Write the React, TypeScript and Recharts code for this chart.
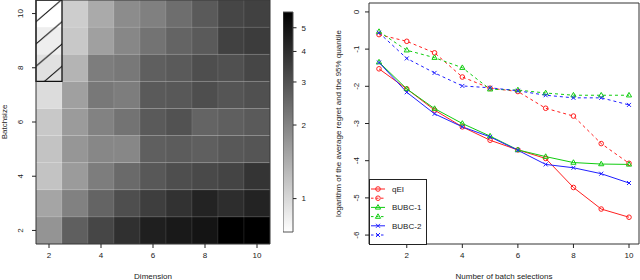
import {
  ComposedChart,
  Line,
  XAxis,
  YAxis,
  ReferenceArea,
  Legend,
  Label,
} from "recharts";

// heatmap: dimension (x) vs batch size (y)
const dims = [2, 3, 4, 5, 6, 7, 8, 9, 10];
const batchSizes = [2, 3, 4, 5, 6, 7, 8, 9, 10];
// one row per batch size, one value per dimension
const heatValues = [
  [1.74, 2.68, 3.28, 3.93, 4.49, 4.74, 4.93, 5.8, 5.8], // batch 2
  [1.52, 2.04, 2.57, 3.08, 3.5, 3.86, 4.37, 4.03, 4.37], // batch 3
  [1.19, 1.65, 2.1, 2.46, 2.84, 3.08, 3.21, 3.33, 3.8], // batch 4
  [1.19, 1.71, 1.94, 1.94, 2.68, 2.75, 2.68, 2.84, 2.91], // batch 5
  [1.14, 1.65, 2.02, 2.28, 2.79, 2.98, 2.57, 2.68, 2.79], // batch 6
  [0.97, 1.58, 2.19, 2.1, 2.79, 2.84, 3.08, 2.91, 3.03], // batch 7
  [0.93, 1.34, 2.1, 2.19, 2.68, 2.79, 3.08, 3.03, 3.28], // batch 8
  [0.84, 1.14, 1.58, 1.94, 2.28, 2.57, 2.79, 3.42, 3.56], // batch 9
  [0.73, 1.1, 1.46, 1.86, 2.05, 2.37, 2.79, 3.28, 3.42], // batch 10
];
const gridTicks = [2, 4, 6, 8, 10];
const colorTicks = [1, 2, 3, 4, 5];
const colorMin = 0.73;
const colorMax = 5.8;

// regret curves
const rounds = [1, 2, 3, 4, 5, 6, 7, 8, 9, 10];
const qeiMean = [-1.53, -2.07, -2.64, -3.09, -3.45, -3.71, -3.94, -4.72, -5.3, -5.52];
const qeiQuant = [-0.61, -0.79, -1.1, -1.75, -2.05, -2.14, -2.59, -2.8, -3.54, -4.07];
const bubc1Mean = [-1.35, -2.07, -2.6, -3.0, -3.34, -3.71, -3.89, -4.05, -4.09, -4.1];
const bubc1Quant = [-0.53, -1.03, -1.23, -1.5, -2.08, -2.1, -2.18, -2.24, -2.24, -2.24];
const bubc2Mean = [-1.36, -2.16, -2.74, -3.09, -3.36, -3.72, -4.1, -4.19, -4.35, -4.6];
const bubc2Quant = [-0.56, -1.25, -1.64, -1.99, -2.04, -2.12, -2.24, -2.31, -2.31, -2.5];
const regretTicks = [0, -1, -2, -3, -4, -5, -6];
const roundTicks = [2, 4, 6, 8, 10];

const FONT = "'Liberation Sans', Arial, sans-serif";
const RED = "#ff2020";
const GREEN = "#10cc10";
const BLUE = "#2020ff";

const series = [
  { key: "qeiMean", name: "qEI", color: RED, dashed: false, mark: "circle" },
  { key: "qeiQuant", name: "", color: RED, dashed: true, mark: "circle" },
  { key: "bubc1Mean", name: "BUBC-1", color: GREEN, dashed: false, mark: "triangle" },
  { key: "bubc1Quant", name: "", color: GREEN, dashed: true, mark: "triangle" },
  { key: "bubc2Mean", name: "BUBC-2", color: BLUE, dashed: false, mark: "cross" },
  { key: "bubc2Quant", name: "", color: BLUE, dashed: true, mark: "cross" },
];

const table = rounds.map((r, i) => ({
  r,
  qeiMean: qeiMean[i],
  qeiQuant: qeiQuant[i],
  bubc1Mean: bubc1Mean[i],
  bubc1Quant: bubc1Quant[i],
  bubc2Mean: bubc2Mean[i],
  bubc2Quant: bubc2Quant[i],
}));

function grayOf(v: number): string {
  const t = (Math.log(v) - Math.log(colorMin)) / (Math.log(colorMax) - Math.log(colorMin));
  const g = Math.round(255 * (1 - Math.min(1, Math.max(0, t))));
  return `rgb(${g},${g},${g})`;
}

function Marker({ cx, cy, color, mark }: { cx: number; cy: number; color: string; mark: string }) {
  if (cx == null || cy == null) return null;
  if (mark === "circle")
    return <circle cx={cx} cy={cy} r={2.3} fill="none" stroke={color} strokeWidth={1} />;
  if (mark === "triangle")
    return (
      <polygon
        points={`${cx},${cy - 2.8} ${cx - 2.6},${cy + 1.7} ${cx + 2.6},${cy + 1.7}`}
        fill="none"
        stroke={color}
        strokeWidth={1}
      />
    );
  return (
    <path
      d={`M${cx - 2},${cy - 2}L${cx + 2},${cy + 2}M${cx - 2},${cy + 2}L${cx + 2},${cy - 2}`}
      stroke={color}
      strokeWidth={1}
    />
  );
}

// y tick labels drawn parallel to the axis, like R does
function RotatedTick(props: any) {
  const { x, y, payload } = props;
  return (
    <text
      x={x}
      y={y}
      dy="0.35em"
      transform={`rotate(-90 ${x} ${y})`}
      textAnchor="middle"
      fontSize={8}
      fontFamily={FONT}
      fill="#222"
    >
      {payload.value}
    </text>
  );
}

function SideTitle({ viewBox, text, dx }: any) {
  const x = viewBox.x + dx;
  const y = viewBox.y + viewBox.height / 2;
  return (
    <text
      x={x}
      y={y}
      dy="0.35em"
      transform={`rotate(-90 ${x} ${y})`}
      textAnchor="middle"
      fontSize={8}
      fontFamily={FONT}
      fill="#222"
    >
      {text}
    </text>
  );
}

function BottomTitle({ viewBox, text }: any) {
  return (
    <text
      x={viewBox.x + viewBox.width / 2}
      y={278.5}
      textAnchor="middle"
      fontSize={8}
      fontFamily={FONT}
      fill="#222"
    >
      {text}
    </text>
  );
}

function LegendBox() {
  return (
    <svg width={58} height={66} style={{ display: "block" }}>
      <rect x={0.5} y={0.5} width={57} height={65} fill="#fff" stroke="#222" strokeWidth={1} />
      {series.map((s, i) => {
        const y = 10 + i * 9.2;
        return (
          <g key={s.key}>
            <line
              x1={2}
              x2={16}
              y1={y}
              y2={y}
              stroke={s.color}
              strokeWidth={1}
              strokeDasharray={s.dashed ? "2.5 2.5" : undefined}
            />
            <Marker cx={9} cy={y} color={s.color} mark={s.mark} />
            {s.name && (
              <text x={23} y={y} dy="0.35em" fontSize={8} fontFamily={FONT} fill="#222">
                {s.name}
              </text>
            )}
          </g>
        );
      })}
    </svg>
  );
}

function Heatmap() {
  return (
    <ComposedChart width={280} height={280} margin={{ top: 0, right: 10, bottom: 0, left: 0 }}>
      <defs>
        <pattern id="hatch" patternUnits="userSpaceOnUse" x={36} y={-0.6} width={26} height={22.3}>
          <line x1={0} y1={22.3} x2={26} y2={0} stroke="#111" strokeWidth={1} />
          <line x1={-2} y1={1.7} x2={2} y2={-1.7} stroke="#111" strokeWidth={1} />
          <line x1={24} y1={24} x2={28} y2={20.6} stroke="#111" strokeWidth={1} />
        </pattern>
      </defs>
      <XAxis
        type="number"
        dataKey="d"
        domain={[1.5, 10.5]}
        allowDataOverflow
        ticks={gridTicks}
        height={36}
        tickSize={4}
        tickMargin={4}
        axisLine={false}
        tickLine={{ stroke: "#222" }}
        tick={{ fontSize: 8, fontFamily: FONT, fill: "#222" }}
      >
        <Label content={(p: any) => <BottomTitle {...p} text="Dimension" />} />
      </XAxis>
      <YAxis
        type="number"
        dataKey="b"
        domain={[1.5, 10.5]}
        allowDataOverflow
        ticks={gridTicks}
        width={36}
        tickSize={4}
        tickMargin={12}
        axisLine={false}
        tickLine={{ stroke: "#222" }}
        tick={<RotatedTick />}
      >
        <Label content={(p: any) => <SideTitle {...p} text="Batchsize" dx={4} />} />
      </YAxis>
      {batchSizes.map((b, i) =>
        dims.map((d, j) => (
          <ReferenceArea
            key={`c-${b}-${d}`}
            x1={d - 0.5}
            x2={d + 0.5}
            y1={b - 0.5}
            y2={b + 0.5}
            ifOverflow="visible"
            fill={grayOf(heatValues[i][j])}
            fillOpacity={1}
            stroke="#fff"
            strokeOpacity={0.08}
          />
        ))
      )}
      <ReferenceArea
        x1={1.5}
        x2={2.5}
        y1={7.5}
        y2={10.5}
        ifOverflow="visible"
        fill="url(#hatch)"
        fillOpacity={1}
        stroke="#111"
        strokeWidth={1.3}
      />
      <ReferenceArea
        x1={1.5}
        x2={10.5}
        y1={1.5}
        y2={10.5}
        ifOverflow="visible"
        fill="none"
        stroke="#333"
        strokeWidth={1}
      />
    </ComposedChart>
  );
}

// the key is on a log scale: the axis runs over ln(value), labels show the value
const lnTicks = colorTicks.map((v) => Math.log(v));

function ColorBar() {
  return (
    <ComposedChart width={40} height={280} margin={{ top: 12, right: 0, bottom: 48, left: 0 }}>
      <defs>
        <linearGradient id="grayRamp" x1="0" y1="1" x2="0" y2="0">
          <stop offset="0%" stopColor="#ffffff" />
          <stop offset="100%" stopColor="#000000" />
        </linearGradient>
      </defs>
      <XAxis type="number" dataKey="x" domain={[0, 1]} allowDataOverflow hide />
      <YAxis
        type="number"
        orientation="right"
        domain={[Math.log(colorMin), Math.log(colorMax)]}
        allowDataOverflow
        ticks={lnTicks}
        tickFormatter={(v: number) => String(Math.round(Math.exp(v)))}
        width={30}
        tickSize={3.5}
        tickMargin={5}
        axisLine={false}
        tickLine={{ stroke: "#222" }}
        tick={{ fontSize: 8, fontFamily: FONT, fill: "#222" }}
      />
      <ReferenceArea
        x1={0}
        x2={1}
        y1={Math.log(colorMin)}
        y2={Math.log(colorMax)}
        ifOverflow="visible"
        fill="url(#grayRamp)"
        fillOpacity={1}
        stroke="#555"
        strokeWidth={1}
      />
    </ComposedChart>
  );
}

function RegretChart() {
  return (
    <ComposedChart width={320} height={280} data={table} margin={{ top: 3, right: 1, bottom: 0, left: 0 }}>
      <XAxis
        type="number"
        dataKey="r"
        domain={[0.64, 10.36]}
        allowDataOverflow
        ticks={roundTicks}
        height={36}
        tickSize={4}
        tickMargin={4}
        axisLine={false}
        tickLine={{ stroke: "#222" }}
        tick={{ fontSize: 8, fontFamily: FONT, fill: "#222" }}
      >
        <Label content={(p: any) => <BottomTitle {...p} text="Number of batch selections" />} />
      </XAxis>
      <YAxis
        type="number"
        domain={[-6.24, 0.24]}
        allowDataOverflow
        ticks={regretTicks}
        width={49}
        tickSize={4}
        tickMargin={9}
        axisLine={false}
        tickLine={{ stroke: "#222" }}
        tick={<RotatedTick />}
      >
        <Label
          content={(p: any) => (
            <SideTitle {...p} text="logarithm of the average regret and the 95% quantile" dx={18} />
          )}
        />
      </YAxis>
      <ReferenceArea
        x1={0.64}
        x2={10.36}
        y1={-6.24}
        y2={0.24}
        ifOverflow="visible"
        fill="none"
        stroke="#333"
        strokeWidth={1}
      />
      {series.map((s) => (
        <Line
          key={s.key}
          type="linear"
          dataKey={s.key}
          stroke={s.color}
          strokeWidth={1}
          strokeDasharray={s.dashed ? "3 3" : undefined}
          dot={(p: any) => <Marker key={`${s.key}-${p.index}`} cx={p.cx} cy={p.cy} color={s.color} mark={s.mark} />}
          activeDot={false}
          isAnimationActive={false}
        />
      ))}
      <Legend
        layout="horizontal"
        verticalAlign="middle"
        align="center"
        content={() => <LegendBox />}
        wrapperStyle={{ left: 49, top: 179, width: 58, height: 66 }}
      />
    </ComposedChart>
  );
}

export default function App() {
  return (
    <div
      style={{
        position: "absolute",
        left: 0,
        top: 0,
        width: 640,
        height: 280,
        background: "#fff",
        overflow: "hidden",
      }}
    >
      <div style={{ position: "absolute", left: 0, top: 0 }}>
        <Heatmap />
      </div>
      <div style={{ position: "absolute", left: 283, top: 0 }}>
        <ColorBar />
      </div>
      <div style={{ position: "absolute", left: 320, top: 0 }}>
        <RegretChart />
      </div>
    </div>
  );
}
